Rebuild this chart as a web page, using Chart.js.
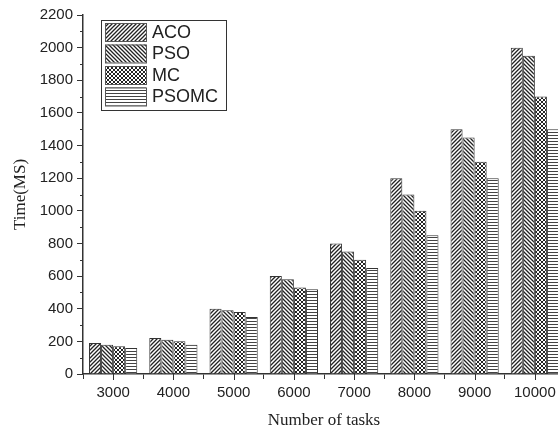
<!DOCTYPE html>
<html>
<head>
<meta charset="utf-8">
<script src="https://cdn.jsdelivr.net/npm/chart.js@4.4.1/dist/chart.umd.min.js"></script>
<style>
  html, body { margin: 0; padding: 0; background: #fff; overflow: hidden; }
  #wrap { width: 558px; height: 430px; overflow: hidden; }
</style>
</head>
<body>
<div id="wrap"><canvas id="taskChart" width="566" height="430"></canvas></div>
<script>
const categories = ["3000", "4000", "5000", "6000", "7000", "8000", "9000", "10000"];
const seriesNames = ["ACO", "PSO", "MC", "PSOMC"];
const acoTimes = [190, 220, 400, 600, 800, 1200, 1500, 2000];
const psoTimes = [180, 210, 390, 580, 750, 1100, 1450, 1950];
const mcTimes = [170, 200, 380, 530, 700, 1000, 1300, 1700];
const psomcTimes = [160, 180, 350, 520, 650, 850, 1200, 1500];
const yTicks = [0, 200, 400, 600, 800, 1000, 1200, 1400, 1600, 1800, 2000, 2200];

const ink = "#333";

// hatch fills like the ones Origin uses
function makePattern(kind) {
  const c = document.createElement("canvas");
  const s = kind === "hline" ? 3 : 4;
  c.width = 4; c.height = s;
  const g = c.getContext("2d");
  g.fillStyle = "#fff";
  g.fillRect(0, 0, 4, s);
  g.strokeStyle = "#222";
  g.lineWidth = kind === "cross" ? 1 : 1.3;
  g.beginPath();
  if (kind === "fwd" || kind === "cross") {
    for (let k = -4; k <= 4; k += 4) { g.moveTo(k - 1, 5); g.lineTo(k + 5, -1); }
  }
  if (kind === "back" || kind === "cross") {
    for (let k = -4; k <= 4; k += 4) { g.moveTo(k - 1, -1); g.lineTo(k + 5, 5); }
  }
  if (kind === "hline") {
    g.strokeStyle = "#444";
    g.lineWidth = 1;
    g.moveTo(0, 0.5); g.lineTo(4, 0.5);
  }
  g.stroke();
  return g.createPattern(c, "repeat");
}

const fills = [makePattern("fwd"), makePattern("back"), makePattern("cross"), makePattern("hline")];
const seriesData = [acoTimes, psoTimes, mcTimes, psomcTimes];

const insideLegend = {
  id: "insideLegend",
  afterDraw(chart) {
    const { ctx, chartArea } = chart;
    const bx = chartArea.left + 18, by = chartArea.top + 5;
    const bw = 125, bh = 90;
    ctx.save();
    ctx.fillStyle = "#fff";
    ctx.fillRect(bx, by, bw, bh);
    ctx.strokeStyle = ink;
    ctx.lineWidth = 1;
    ctx.strokeRect(bx + 0.5, by + 0.5, bw, bh);
    ctx.font = '18px "Liberation Sans", Arial, sans-serif';
    ctx.textBaseline = "middle";
    chart.data.datasets.forEach((ds, i) => {
      const sy = by + 3 + i * 21.5;
      ctx.fillStyle = ds.backgroundColor;
      ctx.fillRect(bx + 4, sy, 41, 18);
      ctx.strokeStyle = "#555";
      ctx.strokeRect(bx + 4.5, sy + 0.5, 41, 18);
      ctx.fillStyle = "#222";
      ctx.fillText(ds.label, bx + 51, sy + 10);
    });
    ctx.restore();
  }
};

const extraTicks = {
  id: "extraTicks",
  afterDraw(chart) {
    const { ctx, scales: { x, y } } = chart;
    ctx.save();
    ctx.strokeStyle = ink;
    ctx.lineWidth = 1;
    // minor ticks on y
    for (let i = 0; i < yTicks.length - 1; i++) {
      const py = Math.round(y.getPixelForValue((yTicks[i] + yTicks[i + 1]) / 2)) + 0.5;
      ctx.beginPath(); ctx.moveTo(x.left - 3, py); ctx.lineTo(x.left, py); ctx.stroke();
    }
    // ticks under each group centre
    categories.forEach((c, i) => {
      const px = Math.round(x.getPixelForValue(i)) + 0.5;
      ctx.beginPath(); ctx.moveTo(px, y.bottom); ctx.lineTo(px, y.bottom + 6); ctx.stroke();
    });
    ctx.restore();
  }
};

const tickFont = { family: '"Liberation Sans", Arial, sans-serif', size: 15 };
const titleFont = { family: '"Liberation Serif", "Times New Roman", serif', size: 17 };

new Chart(document.getElementById("taskChart").getContext("2d"), {
  type: "bar",
  data: {
    labels: categories,
    datasets: seriesNames.map((name, i) => ({
      label: name,
      data: seriesData[i],
      backgroundColor: fills[i],
      borderColor: "#333",
      borderWidth: 1,
      categoryPercentage: 0.8,
      barPercentage: 1
    }))
  },
  options: {
    responsive: false,
    animation: false,
    layout: { padding: { top: 15, right: 1, left: 0, bottom: 0 } },
    plugins: { legend: { display: false }, tooltip: { enabled: false } },
    scales: {
      x: {
        offset: true,
        grid: { drawOnChartArea: false, offset: true, tickLength: 5, color: ink, tickColor: ink },
        border: { color: ink, width: 1.5 },
        ticks: { color: "#222", font: tickFont, padding: 5, maxRotation: 0, autoSkip: false },
        title: { display: true, text: "Number of tasks", color: "#222", font: { ...titleFont, lineHeight: 1 }, padding: { top: 0, bottom: 1 } },
        afterFit: s => { s.height = 56; }
      },
      y: {
        min: 0,
        max: 2200,
        afterBuildTicks: s => { s.ticks = yTicks.map(v => ({ value: v })); },
        grid: { drawOnChartArea: false, tickLength: 6, color: ink, tickColor: ink },
        border: { color: ink, width: 1.5 },
        ticks: { color: "#222", font: tickFont, padding: 4, callback: v => String(v) },
        title: { display: true, text: "Time(MS)", color: "#222", font: titleFont, padding: { top: 10, bottom: 0 } },
        afterFit: s => { s.width = 83; }
      }
    }
  },
  plugins: [insideLegend, extraTicks]
});
</script>
</body>
</html>
